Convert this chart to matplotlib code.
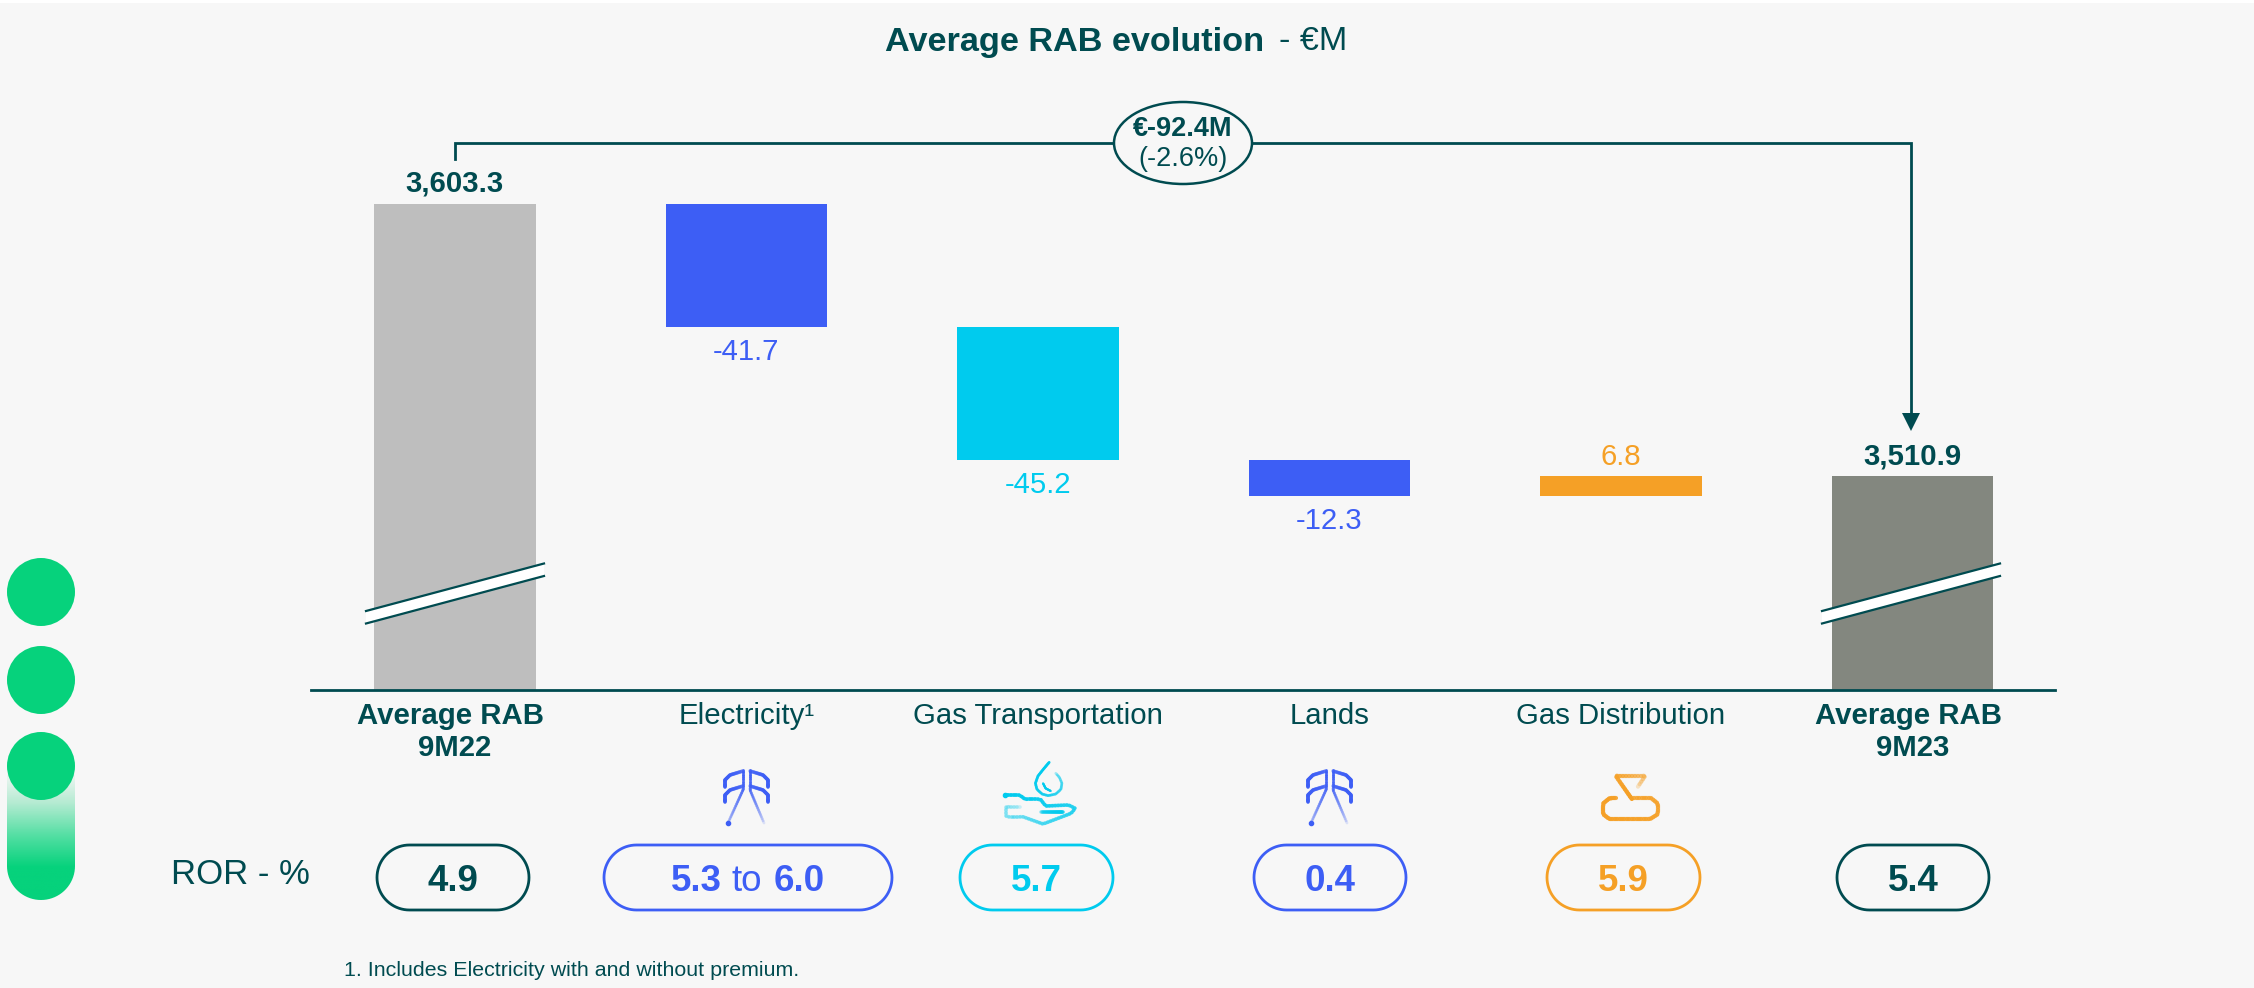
import numpy as np
import matplotlib
matplotlib.use('Agg')
import matplotlib.pyplot as plt
from matplotlib.collections import LineCollection
from matplotlib.colors import LinearSegmentedColormap
from matplotlib.patches import Ellipse, Polygon, Rectangle

plt.rcParams['font.family'] = ['Liberation Sans', 'DejaVu Sans']

# ---- data ----
categories = ['Average RAB \n9M22', 'Electricity¹', 'Gas Transportation',
              'Lands', 'Gas Distribution', 'Average RAB \n9M23']
start_total = 3603.3
end_total = 3510.9
deltas = [-41.7, -45.2, -12.3, 6.8]
ror_labels = ['4.9', None, '5.7', '0.4', '5.9', '5.4']
total_change = '€-92.4M'
total_change_pct = '(-2.6%)'

# ---- colours ----
DARK = '#004B50'
BG = '#F7F7F7'
GREY = '#BEBEBE'
GREY2 = '#83877F'
BLUE = '#3D5EF5'
CYAN = '#00CBEE'
ORANGE = '#F5A026'
GREEN = '#06D27C'
delta_colors = [BLUE, CYAN, BLUE, ORANGE]
ror_colors = [DARK, BLUE, CYAN, BLUE, ORANGE, DARK]

FS = 21.2

fig = plt.figure(figsize=(22.54, 9.88), dpi=100, facecolor='white')

# overlay in pixel coordinates, for everything that is not a data mark
px = fig.add_axes([0, 0, 1, 1])
px.set_xlim(0, 2254)
px.set_ylim(988, 0)
px.axis('off')
px.add_patch(Rectangle((0, 3), 2254, 985, fc=BG, ec='none', zorder=0))


def stadium(x0, x1, y0, y1, r=None, **kw):
    """Pill shape: straight sides, round ends of radius r"""
    if r is None:
        r = (y1 - y0) / 2
    t = np.linspace(0, np.pi / 2, 20)
    xs = np.r_[x1 - r + r * np.sin(t), x1 - r + r * np.cos(t), x0 + r - r * np.sin(t), x0 + r - r * np.cos(t)]
    ys = np.r_[y0 + r - r * np.cos(t), y1 - r + r * np.sin(t), y1 - r + r * np.cos(t), y0 + r - r * np.sin(t)]
    return Polygon(np.c_[xs, ys], closed=True, **kw)


# ---- waterfall axes: broken axis, only the top of the range is shown ----
ax = fig.add_axes([311 / 2254, 1 - 690 / 988, (2055 - 311) / 2254, (690 - 60) / 988])
ax.patch.set_alpha(0)
ax.set_xlim(-0.494, 5.489)
ax.set_ylim(3438.2, 3652.2)
for s in ('top', 'left', 'right'):
    ax.spines[s].set_visible(False)
ax.spines['bottom'].set_color(DARK)
ax.spines['bottom'].set_linewidth(2)
ax.set_yticks([])
ax.set_xticks(range(6))
ax.set_xticklabels(categories, fontsize=FS, color=DARK, linespacing=1.18, va='top')
ax.tick_params(axis='x', length=0, pad=9)
for i in (0, 5):
    ax.get_xticklabels()[i].set_fontweight('bold')

W = 0.553
ax.bar(0, start_total, W, color=GREY, zorder=2)
ax.bar(5, end_total, W, color=GREY2, zorder=2)
ax.annotate(f'{start_total:,.1f}', (0, start_total), xytext=(0, 15), textcoords='offset points',
            ha='center', va='center', fontsize=FS, fontweight='bold', color=DARK)
ax.annotate(f'{end_total:,.1f}', (5, end_total), xytext=(0, 14), textcoords='offset points',
            ha='center', va='center', fontsize=FS, fontweight='bold', color=DARK)

running = start_total
for i, d in enumerate(deltas):
    new = running + d
    ax.bar(i + 1, abs(d), W, bottom=min(running, new), color=delta_colors[i], zorder=2)
    off = -18 if d < 0 else 13.5
    ax.annotate(f'{d:.1f}', (i + 1, new), xytext=(0, off), textcoords='offset points',
                ha='center', va='center', fontsize=FS, color=delta_colors[i])
    running = new


# ---- axis break marks ----
def break_mark(x0, x1):
    top = [(x0, 611), (x1, 563.5)]
    bot = [(x1, 576), (x0, 623.5)]
    fig.add_artist(Polygon(top + bot, fc='white', ec='none', zorder=5, transform=px.transData))
    for a, b in (top, bot):
        fig.add_artist(plt.Line2D([a[0], b[0]], [a[1], b[1]], color=DARK, lw=1.6,
                                  zorder=6, transform=px.transData))


break_mark(366, 544)
break_mark(1822, 2000)

# ---- bracket with total change ----
px.plot([455, 455, 1911, 1911], [159, 143, 143, 415], color=DARK, lw=2, zorder=3,
        solid_joinstyle='miter')
px.add_patch(Polygon([(1902, 413), (1920, 413), (1911, 431)], fc=DARK, ec='none', zorder=3))
px.add_patch(Ellipse((1183, 143), 138, 82, fc=BG, ec=DARK, lw=1.8, zorder=4))
px.text(1183, 129, total_change, ha='center', va='center', fontsize=19.5, fontweight='bold',
        color=DARK, zorder=5)
px.text(1183, 159, total_change_pct, ha='center', va='center', fontsize=19.5, color=DARK, zorder=5)

# ---- title ----
px.text(885, 42, 'Average RAB evolution', ha='left', va='center', fontsize=24.7,
        fontweight='bold', color=DARK)
px.text(1347, 42, '- €M', ha='right', va='center', fontsize=24.7, color=DARK)

# ---- ROR row ----
px.text(171, 874, 'ROR - %', ha='left', va='center', fontsize=25, color=DARK)
pill_x = [(377, 529), (604, 892), (960, 1113), (1254, 1406), (1547, 1700), (1837, 1989)]
for (x0, x1), lab, c in zip(pill_x, ror_labels, ror_colors):
    px.add_patch(stadium(x0, x1, 845, 910, fc='none', ec=c, lw=2))
    if lab is not None:
        px.text((x0 + x1) / 2, 881, lab, ha='center', va='center', fontsize=26.5,
                fontweight='bold', color=c)
px.text(696, 881, '5.3', ha='center', va='center', fontsize=26.5, fontweight='bold', color=BLUE)
px.text(747, 881, 'to', ha='center', va='center', fontsize=26.5, color=BLUE)
px.text(799, 881, '6.0', ha='center', va='center', fontsize=26.5, fontweight='bold', color=BLUE)

px.text(344, 970, '1. Includes Electricity with and without premium.', ha='left', va='center',
        fontsize=15.4, color=DARK)

# ---- green dots and gradient pill on the left ----
cmap = LinearSegmentedColormap.from_list('g', [BG, '#B5EBD2', '#55DFA4', GREEN, GREEN])
im = px.imshow(np.linspace(0, 1, 200).reshape(-1, 1), extent=(7, 75, 900, 770), cmap=cmap,
               aspect='auto', zorder=1)
clip = stadium(7, 75, 740, 900, r=34, fc='none', ec='none')
px.add_patch(clip)
im.set_clip_path(clip)
px.set_xlim(0, 2254)
px.set_ylim(988, 0)
for cy in (592, 680, 766):
    px.add_patch(Ellipse((41, cy), 68, 68, fc=GREEN, ec='none', zorder=2))


# ---- small icons, strokes fade along their length ----
def fade(pts, c, a0=1.0, a1=1.0, lw=2.2, n=24):
    pts = np.array(pts, dtype=float)
    seg_len = np.r_[0, np.cumsum(np.hypot(*np.diff(pts, axis=0).T))]
    s = np.linspace(0, seg_len[-1], n + 1)
    xy = np.c_[np.interp(s, seg_len, pts[:, 0]), np.interp(s, seg_len, pts[:, 1])]
    segs = np.stack([xy[:-1], xy[1:]], axis=1)
    lc = LineCollection(segs, colors=c, linewidths=lw, alpha=np.linspace(a0, a1, n), capstyle='round')
    px.add_collection(lc)


def tower(cx):
    top, mid = 770, 790
    fade([(cx - 3, top), (cx - 3, mid), (cx - 18, 823)], BLUE, 0.9, 0.25, lw=2)
    fade([(cx + 4, top), (cx + 4, mid), (cx + 18, 823)], BLUE, 0.9, 0.15, lw=2)
    for y0 in (771, 786):
        fade([(cx - 3, y0), (cx - 16, y0 + 4), (cx - 21, y0 + 9), (cx - 21, y0 + 16)], BLUE, 0.45, 1, lw=2.6)
        fade([(cx + 4, y0), (cx + 17, y0 + 4), (cx + 22, y0 + 9), (cx + 22, y0 + 16)], BLUE, 0.45, 1, lw=2.6)
    px.plot([cx - 18], [823], 'o', ms=3, color=BLUE)


tower(746)
tower(1329)


# drop and hand
def zp(p):
    return [(640 + a / 1.96, 680 + b / 3) for a, b in p]


fade(zp([(802, 247), (792, 265), (780, 288), (775, 310), (778, 328), (788, 342), (800, 347), (815, 342),
         (825, 328), (827, 310), (822, 292), (815, 280)]), CYAN, 1, 0.35, lw=2, n=40)
fade(zp([(790, 310), (795, 325), (805, 333)]), CYAN, 0.8, 0.8, lw=1.6)
fade(zp([(715, 346), (745, 346), (755, 358), (785, 358), (795, 378), (840, 375), (853, 385), (845, 400),
         (790, 432), (750, 410), (718, 410), (718, 380), (745, 380)]), CYAN, 0.9, 0.2, lw=2.6, n=60)
fade(zp([(785, 397), (830, 397)]), CYAN, 0.4, 0.8, lw=2.6)
px.plot(*zp([(715, 346)])[0], 'o', ms=3, color=CYAN)


# gas distribution icon
def zq(p):
    return [(1440 + a / 2.45, 420 + b / 3) for a, b in p]


fade(zq([(470, 1137), (430, 1067), (503, 1067), (485, 1100)]), ORANGE, 1, 0.25, lw=3)
fade(zq([(432, 1135), (415, 1135), (400, 1150), (400, 1183), (415, 1197), (515, 1197), (533, 1183),
         (533, 1150), (518, 1135), (470, 1135)]), ORANGE, 0.9, 0.65, lw=3, n=50)

fig.savefig('out.png', dpi=100, facecolor=fig.get_facecolor())
